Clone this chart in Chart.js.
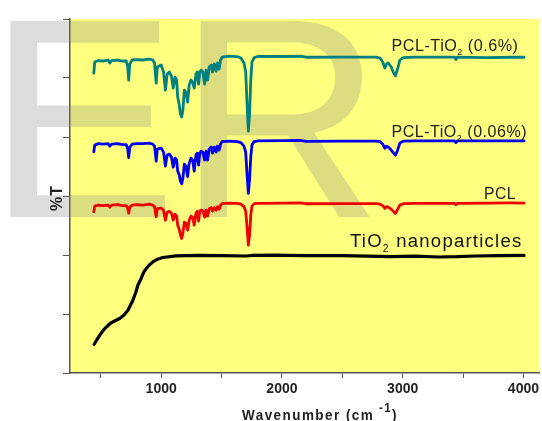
<!DOCTYPE html>
<html><head><meta charset="utf-8">
<script src="https://cdn.jsdelivr.net/npm/chart.js@4.4.1/dist/chart.umd.min.js"></script>
<style>html,body{margin:0;padding:0;background:#fff;}#wrap{width:542px;height:421px;}</style>
</head><body><div id="wrap"><canvas id="c" width="542" height="421"></canvas></div>
<script>
// ---- data (y in offset %T units, axis 0..6) ----
const pclWavenumbers = [442,450,480,520,560,575,590,640,680,710,722,731,740,760,800,850,900,930,945,959,968,1000,1020,1035,1050,1068,1085,1100,1115,1128,1137,1150,1160,1170,1180,1192,1205,1219,1232,1247,1260,1274,1288,1299,1310,1320,1332,1345,1360,1372,1384,1398,1415,1425,1440,1455,1466,1480,1492,1505,1560,1630,1660,1686,1700,1710,1722,1732,1742,1752,1770,1800,2000,2150,2200,2500,2780,2812,2835,2853,2866,2880,2905,2925,2940,2955,2977,3004,3100,3430,3441,3452,3700,3900,4005];
const pclTio2High = [5.084,5.271,5.296,5.288,5.305,5.254,5.296,5.305,5.288,5.288,5.203,4.965,5.237,5.305,5.313,5.305,5.321,5.305,5.254,4.914,5.186,5.220,5.101,4.796,5.067,5.101,5.033,4.829,5.016,4.965,4.677,4.541,4.388,4.338,4.456,4.796,4.762,4.592,4.880,4.965,4.931,4.829,5.067,5.101,4.897,5.101,5.135,5.101,4.897,5.135,4.965,5.186,5.220,5.101,5.237,5.118,5.254,5.152,5.305,5.355,5.372,5.364,5.338,5.254,5.101,4.626,4.100,4.372,4.965,5.271,5.347,5.364,5.364,5.369,5.352,5.355,5.355,5.338,5.271,5.169,5.237,5.254,5.186,5.084,5.038,5.135,5.305,5.347,5.355,5.355,5.313,5.355,5.347,5.352,5.352];
const pclTio2Low = [3.749,3.863,3.888,3.880,3.888,3.846,3.880,3.888,3.871,3.871,3.812,3.651,3.829,3.880,3.888,3.888,3.896,3.880,3.846,3.591,3.795,3.812,3.744,3.506,3.693,3.710,3.659,3.489,3.642,3.608,3.422,3.354,3.252,3.209,3.303,3.540,3.506,3.328,3.557,3.642,3.608,3.422,3.693,3.727,3.523,3.727,3.761,3.744,3.608,3.761,3.608,3.795,3.829,3.727,3.829,3.744,3.846,3.778,3.880,3.922,3.930,3.922,3.905,3.846,3.744,3.405,3.043,3.269,3.659,3.863,3.922,3.936,3.939,3.942,3.927,3.930,3.930,3.922,3.880,3.807,3.846,3.829,3.778,3.727,3.693,3.761,3.896,3.930,3.936,3.936,3.905,3.936,3.935,3.936,3.936];
const pclPure = [2.731,2.828,2.845,2.836,2.845,2.811,2.845,2.853,2.836,2.836,2.802,2.709,2.811,2.845,2.853,2.845,2.862,2.845,2.819,2.646,2.785,2.794,2.760,2.590,2.726,2.743,2.709,2.590,2.692,2.658,2.506,2.438,2.336,2.280,2.370,2.556,2.539,2.421,2.590,2.658,2.641,2.506,2.709,2.743,2.573,2.743,2.760,2.751,2.641,2.760,2.658,2.785,2.802,2.743,2.802,2.760,2.819,2.777,2.845,2.870,2.879,2.874,2.862,2.819,2.743,2.506,2.166,2.336,2.675,2.828,2.870,2.874,2.879,2.882,2.869,2.870,2.870,2.862,2.836,2.789,2.819,2.811,2.777,2.735,2.704,2.760,2.845,2.870,2.874,2.874,2.853,2.874,2.879,2.882,2.879];
const tio2Wavenumbers = [445,470,492,520,547,580,615,656,690,725,766,790,807,835,856,876,900,931,970,1013,1124,1300,1500,1700,1750,1950,2050,2200,2500,2700,2900,3100,3300,3450,3600,3800,4005];
const tio2Nano = [0.487,0.572,0.640,0.724,0.780,0.843,0.882,0.923,0.979,1.064,1.233,1.369,1.488,1.606,1.708,1.771,1.827,1.883,1.929,1.958,1.985,1.992,1.988,1.983,1.992,1.999,1.992,1.988,1.988,1.980,1.974,1.980,1.966,1.971,1.983,1.988,1.992];
const seriesNames = ['PCL-TiO2 (0.6%)', 'PCL-TiO2 (0.06%)', 'PCL', 'TiO2 nanoparticles'];
const xTickValues = [500, 1000, 1500, 2000, 2500, 3000, 3500, 4000];
const xTickLabels = [1000, 2000, 3000, 4000];
const yTickValues = [0, 1, 2, 3, 4, 5, 6];
const xAxisTitle = 'Wavenumber (cm';
const yAxisTitle = '%T';

const pts = (xs, ys) => xs.map((x, i) => ({x: x, y: ys[i]}));

const FONT = '"Liberation Sans", Arial, sans-serif';

function drawRich(ctx, parts, x, y, targetW, spacing) {
  ctx.save();
  ctx.letterSpacing = spacing + 'px';
  let w = 0;
  parts.forEach(p => { ctx.font = p.font; p.w = ctx.measureText(p.t).width; w += p.w; });
  const sx = targetW ? targetW / w : 1;
  ctx.translate(x, y); ctx.scale(sx, 1);
  let cx = 0;
  parts.forEach(p => { ctx.font = p.font; ctx.fillText(p.t, cx, p.dy || 0); cx += p.w; });
  ctx.restore();
}

function splitSub(name, size, subSize, dy) {
  const i = name.indexOf('2');
  return [
    {t: name.slice(0, i), font: size + 'px ' + FONT},
    {t: '2', font: subSize + 'px ' + FONT, dy: dy},
    {t: name.slice(i + 1), font: size + 'px ' + FONT}
  ];
}

const deco = {
  id: 'deco',
  beforeDraw(chart) {
    const {ctx, chartArea: a} = chart;
    ctx.save();
    ctx.fillStyle = '#ffffff';
    ctx.fillRect(0, 0, chart.width, chart.height);
    ctx.fillStyle = '#ffff80';
    ctx.fillRect(a.left, a.top, a.right - a.left, a.bottom - a.top);
    ctx.restore();
  },
  beforeDatasetsDraw(chart) {
    const ctx = chart.ctx;
    ctx.save();
    ctx.font = '285px ' + FONT;
    ctx.letterSpacing = '0px';
    ctx.fillStyle = 'rgba(128,128,128,0.28)';
    ctx.textBaseline = 'alphabetic';
    ctx.textAlign = 'left';
    ctx.fillText('ER', -13, 217);
    ctx.restore();
  },
  afterDatasetsDraw(chart) {
    const ctx = chart.ctx;
    ctx.save();
    ctx.fillStyle = '#222';
    ctx.textBaseline = 'alphabetic';
    drawRich(ctx, splitSub(seriesNames[0], 16, 9, 4), 391.5, 50.5, 127, 0.5);
    drawRich(ctx, splitSub(seriesNames[1], 16, 9, 4), 391.5, 137, 135.5, 0.5);
    drawRich(ctx, [{t: seriesNames[2], font: '16px ' + FONT}], 484, 198.5, 32, 0.5);
    ctx.fillStyle = '#111';
    drawRich(ctx, splitSub(seriesNames[3], 18, 10, 5), 350, 246.5, 172.5, 1.2);
    ctx.fillStyle = '#222';
    drawRich(ctx, [
      {t: xAxisTitle, font: 'bold 14px ' + FONT},
      {t: ' -1', font: 'bold 12px ' + FONT, dy: -8},
      {t: ')', font: 'bold 14px ' + FONT}
    ], 242, 419.5, 156, 1.5);
    ctx.translate(61.5, 198);
    ctx.rotate(-Math.PI / 2);
    ctx.font = 'bold 16px ' + FONT;
    ctx.letterSpacing = '1px';
    ctx.textAlign = 'center';
    ctx.fillText(yAxisTitle, 0, 0);
    ctx.restore();
  }
};

const axisColor = '#555';
const lineWidths = [3.2, 2.8, 2.8, 2.8];
new Chart(document.getElementById('c'), {
  type: 'scatter',
  data: {
    datasets: [
      {label: seriesNames[3], data: pts(tio2Wavenumbers, tio2Nano), borderColor: '#000000'},
      {label: seriesNames[2], data: pts(pclWavenumbers, pclPure), borderColor: '#ee0000'},
      {label: seriesNames[1], data: pts(pclWavenumbers, pclTio2Low), borderColor: '#0000ee'},
      {label: seriesNames[0], data: pts(pclWavenumbers, pclTio2High), borderColor: '#008080'}
    ].map((d, i) => Object.assign(d, {showLine: true, pointRadius: 0, borderWidth: lineWidths[i], tension: 0, fill: false, borderJoinStyle: 'round', borderCapStyle: 'round'}))
  },
  options: {
    responsive: false,
    devicePixelRatio: 1,
    animation: false,
    layout: {padding: {top: 19, left: 0, right: 0, bottom: 0}},
    plugins: {legend: {display: false}, tooltip: {enabled: false}},
    scales: {
      x: {
        type: 'linear', min: 245, max: 4132,
        afterFit: s => { s.height = 48; },
        afterBuildTicks: s => { s.ticks = xTickValues.map(v => ({value: v})); },
        ticks: {
          autoSkip: false, maxRotation: 0, minRotation: 0, padding: 3,
          color: '#222', font: {family: FONT, size: 14, weight: 'bold'},
          callback: v => xTickLabels.includes(v) ? String(v) : ''
        },
        grid: {drawOnChartArea: false, drawTicks: true, tickLength: 5, color: axisColor, lineWidth: 1},
        border: {display: true, color: axisColor, width: 1.5}
      },
      y: {
        min: 0, max: 6,
        afterFit: s => { s.width = 70; },
        afterBuildTicks: s => { s.ticks = yTickValues.map(v => ({value: v})); },
        ticks: {autoSkip: false, callback: () => '', padding: 0},
        grid: {drawOnChartArea: false, drawTicks: true, tickLength: 7, color: axisColor, lineWidth: 1},
        border: {display: true, color: axisColor, width: 1.5}
      }
    }
  },
  plugins: [deco]
});
</script></body></html>
